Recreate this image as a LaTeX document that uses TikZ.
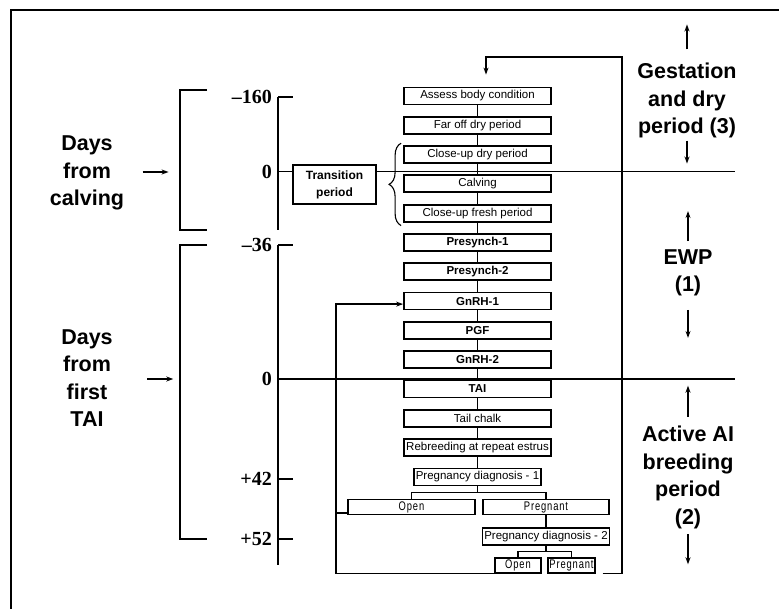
\documentclass[tikz,border=0pt]{standalone}
\usepackage{fontspec}
\setmainfont{Liberation Sans}
\newfontfamily\numfont{Liberation Serif}
\newfontfamily\narrowfont[FakeStretch=0.75,LetterSpace=7]{Liberation Sans}
\usetikzlibrary{positioning,arrows.meta,decorations.pathreplacing}

\begin{document}
\begin{tikzpicture}[
    x=1pt, y=-1pt,
    node distance=10.5pt,
    box/.style={
        draw,
        line width=1.8pt,
        fill=white,
        minimum width=147pt,
        minimum height=17pt,
        inner sep=1pt,
        font=\fontsize{11.5}{13}\selectfont
    },
    boldbox/.style={box, font=\fontsize{11.5}{13}\selectfont\bfseries},
    diagbox/.style={box, minimum width=127pt},
    choicebox/.style={
        box,
        minimum width=126.5pt,
        minimum height=15pt,
        font=\narrowfont\fontsize{12.5}{12.5}\selectfont
    },
    smallchoice/.style={choicebox, minimum width=46.5pt},
    link/.style={line width=1.6pt},
    axis/.style={line width=1.9pt},
    arrow/.style={
        -{Stealth[length=7pt,width=5pt]},
        line width=1.4pt
    },
    biglabel/.style={align=center, font=\fontsize{21.5}{27.5}\selectfont\bfseries},
    num/.style={font=\numfont\fontsize{20}{20}\selectfont\bfseries, inner sep=0pt}
]

    \useasboundingbox (0,0) rectangle (779,609);

    % ---------------------------------------------------------
    % FRAME
    % ---------------------------------------------------------
    \draw[line width=2pt] (11,609) -- (11,10) -- (779,10);

    % ---------------------------------------------------------
    % TIME AXIS
    % ---------------------------------------------------------
    \coordinate (axA) at (278,97);
    \coordinate (axB) at (278,230);
    \coordinate (zeroA) at (278,171.5);
    \coordinate (axC) at (278,245);
    \coordinate (zeroB) at (278,379);
    \coordinate (axD) at (278,479);
    \coordinate (axE) at (278,539);
    \coordinate (axF) at (278,565);

    \draw[axis] (axA) -- (axB);
    \draw[axis] (axC) -- (axF);
    \foreach \t in {axA,axC,axD,axE}
        \draw[axis] (\t) -- ++(15,0);

    \draw[link] (zeroA) -- (735,171.5);
    \draw[link] (zeroB) -- (735,379);

    \node[num, left=6pt] at (axA) {\textendash160};
    \node[num, left=6pt] at (zeroA) {0};
    \node[num, left=6pt] at (axC) {\textendash36};
    \node[num, left=6pt] at (zeroB) {0};
    \node[num, left=6pt] at (axD) {+42};
    \node[num, left=6pt] at (axE) {+52};

    % brackets
    \draw[axis] (207,90) -- (180,90) -- (180,230) -- (207,230);
    \draw[axis] (207,245) -- (180,245) -- (180,539) -- (207,539);

    % ---------------------------------------------------------
    % LEFT LABELS
    % ---------------------------------------------------------
    \node[biglabel] (calvlabel) at (87,173) {Days\\from\\calving};
    \node[biglabel] (tailabel) at (87,378) {Days\\from\\first\\TAI};

    \draw[arrow] ([xshift=15pt,yshift=1pt]calvlabel.east) -- ++(26,0);
    \draw[arrow] ([xshift=31pt,yshift=-1pt]tailabel.east) -- ++(26,0);

    % ---------------------------------------------------------
    % MAIN COLUMN
    % ---------------------------------------------------------
    \node[box] (assess) at (477.5,96) {Assess body condition};
    \node[box, below=of assess] (faroff) {Far off dry period};
    \node[box, below=of faroff] (closedry) {Close-up dry period};
    \node[box, below=of closedry] (calving) {Calving};
    \node[box, below=of calving] (closefresh) {Close-up fresh period};
    \node[boldbox, below=of closefresh] (presyncha) {Presynch-1};
    \node[boldbox, below=of presyncha] (presynchb) {Presynch-2};
    \node[boldbox, below=of presynchb] (gnrha) {GnRH-1};
    \node[boldbox, below=of gnrha] (pgf) {PGF};
    \node[boldbox, below=of pgf] (gnrhb) {GnRH-2};
    \node[boldbox, below=of gnrhb] (tai) {TAI};
    \node[box, below=of tai] (tail) {Tail chalk};
    \node[box, below=of tail] (rebreed) {Rebreeding at repeat estrus};
    \node[diagbox, below=of rebreed] (pdone) {Pregnancy diagnosis - 1};

    \node[choicebox, below=12.3pt of pdone, xshift=-66pt] (openone) {Open};
    \node[choicebox, below=12.3pt of pdone, xshift=68.5pt] (pregone) {Pregnant};
    \node[diagbox, below=11.3pt of pregone] (pdtwo) {Pregnancy diagnosis - 2};
    \node[smallchoice, below=11.3pt of pdtwo, xshift=-28pt] (opentwo) {Open};
    \node[smallchoice, below=11.3pt of pdtwo, xshift=25.5pt] (pregtwo) {Pregnant};

    \foreach \a/\b in {assess/faroff, faroff/closedry, closedry/calving,
        calving/closefresh, closefresh/presyncha, presyncha/presynchb,
        presynchb/gnrha, gnrha/pgf, pgf/gnrhb, gnrhb/tai, tai/tail,
        tail/rebreed, rebreed/pdone, pregone/pdtwo}
        \draw[link] (\a) -- (\b);

    \draw[link] (pdone.south) -- ++(0,6) -| (openone.north);
    \draw[link] (pdone.south) -- ++(0,6) -| (pregone.north);
    \draw[link] (pdtwo.south) -- ++(0,6) -| (opentwo.north);
    \draw[link] (pdtwo.south) -- ++(0,6) -| (pregtwo.north);

    % transition period
    \node[draw, line width=1.8pt, fill=white, minimum width=83pt, minimum height=39pt,
        inner sep=1pt, align=center, font=\fontsize{12}{17}\selectfont\bfseries]
        (trans) at (334.5,184.5) {Transition\\period};
    \draw[line width=1.1pt, decorate, decoration={brace, amplitude=12pt}]
        ([xshift=-2pt,yshift=-3pt]closefresh.south west) -- ([xshift=-2pt,yshift=2pt]closedry.north west);

    % ---------------------------------------------------------
    % LOOPS
    % ---------------------------------------------------------
    \coordinate (loopLeft) at (336,0);
    \coordinate (loopTop) at (622,57);

    \draw[arrow, line width=1.6pt] (opentwo.south west) -- (opentwo.south west -| loopLeft)
        |- ([yshift=-3pt]gnrha.west);
    \draw[link] ([yshift=-6pt]openone.west) -- ++(-11.5,0);
    \draw[arrow, line width=1.6pt] ([xshift=7pt]pregtwo.south east) -| (loopTop)
        -| ([xshift=8.5pt,yshift=12pt]assess.north);

    % ---------------------------------------------------------
    % RIGHT LABELS
    % ---------------------------------------------------------
    \node[biglabel] (gest) at (687,100.5) {Gestation\\and dry\\period (3)};
    \node[biglabel] (ewp) at (688,273) {EWP\\(1)};
    \node[biglabel] (active) at (688,477.5) {Active AI\\breeding\\period\\(2)};

    \draw[arrow] (gest.north) ++(0,-10) -- ++(0,-25);
    \draw[arrow] (gest.south) ++(0,-1) -- ++(0,23);
    \draw[arrow] (ewp.north) ++(0,-5) -- ++(0,-30);
    \draw[arrow] (ewp.south) ++(0,10) -- ++(0,28);
    \draw[arrow] (active.north) ++(0,-6) -- ++(0,-31);
    \draw[arrow] (active.south) ++(0,2) -- ++(0,30);

\end{tikzpicture}
\end{document}
